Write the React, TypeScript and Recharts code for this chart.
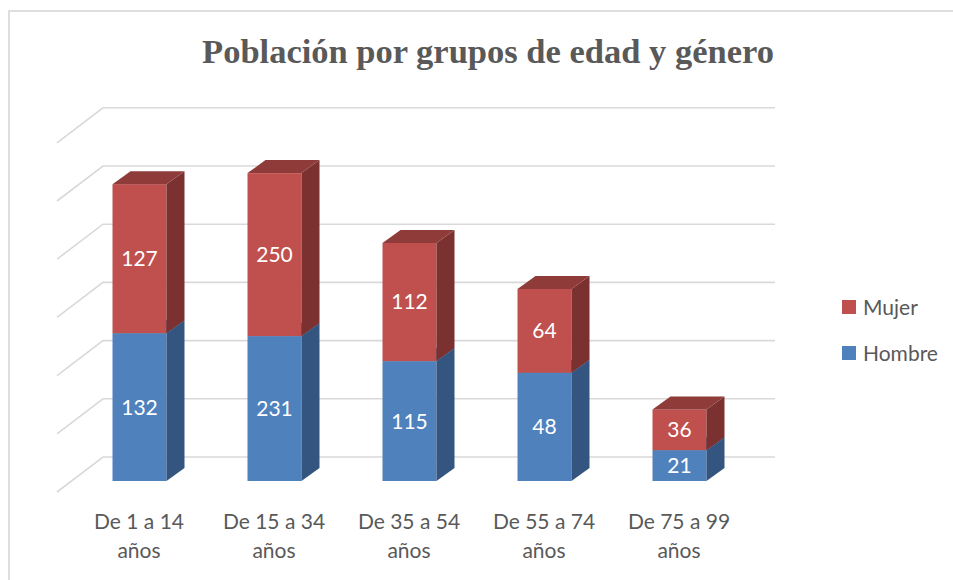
import { BarChart, Bar, XAxis, YAxis, CartesianGrid, LabelList, Legend } from 'recharts'

// Age groups (x axis)
const categories = ['De 1 a 14 años', 'De 15 a 34 años', 'De 35 a 54 años', 'De 55 a 74 años', 'De 75 a 99 años']

// Bar heights as drawn (one gridline = 10)
const hombreHeights = [25.4, 24.9, 20.6, 18.6, 5.3]
const mujerHeights = [25.6, 28.0, 20.3, 14.4, 7.0]

// Data labels printed on the bars
const hombreLabels = [132, 231, 115, 48, 21]
const mujerLabels = [127, 250, 112, 64, 36]

const yTicks = [0, 10, 20, 30, 40, 50, 60]

const data = categories.map((name, i) => ({
    name,
    hombre: hombreHeights[i],
    mujer: mujerHeights[i],
    hombreLabel: hombreLabels[i],
    mujerLabel: mujerLabels[i],
}))

const FONT = 'Lato, "Open Sans", sans-serif'
const GRAY = '#595959'
const DX = 18
const DY = -13

const box = (front: string, side: string, top: string) => (props: any) => {
    const { x, y, width, height } = props
    if (!height) return <g />
    const r = x + width
    const b = y + height
    return (
        <g>
            <rect x={x} y={y} width={width} height={height} fill={front} />
            <polygon points={`${r},${b} ${r + DX},${b + DY} ${r + DX},${y + DY} ${r},${y}`} fill={side} />
            <polygon points={`${x},${y} ${r},${y} ${r + DX},${y + DY} ${x + DX},${y + DY}`} fill={top} />
        </g>
    )
}

const gridLine = (props: any) => {
    const { x1, x2, y1, index } = props
    const pts = `${x1 - 14.5},${y1 + 11} ${x1 + 31.5},${y1 - 24} ${x2 + 28.5},${y1 - 24}`
    return <polyline key={`g-${index}-${y1}`} points={pts} fill="none" stroke="#d9d9d9" strokeWidth={1.6} />
}

const CategoryTick = (props: any) => {
    const { x, y, payload } = props
    const s = String(payload.value)
    const i = s.lastIndexOf(' ')
    return (
        <g>
            <text x={x} y={y + 48} textAnchor="middle" fill={GRAY} fontSize={21} fontFamily={FONT}>{s.slice(0, i)}</text>
            <text x={x} y={y + 77} textAnchor="middle" fill={GRAY} fontSize={21} fontFamily={FONT}>{s.slice(i + 1)}</text>
        </g>
    )
}

const legendItems = [
    { name: 'Mujer', color: '#c0504d' },
    { name: 'Hombre', color: '#4f81bd' },
]

const LegendBox = () => (
    <div style={{ position: 'relative', width: 110, height: 70 }}>
        {legendItems.map((it, i) => (
            <div key={it.name} style={{ position: 'absolute', left: 0, top: i * 46, display: 'flex', alignItems: 'center', height: 20 }}>
                <span style={{ width: 14, height: 14, background: it.color, display: 'inline-block', marginRight: 7 }} />
                <span style={{ fontFamily: FONT, fontSize: 21, color: GRAY, lineHeight: '20px' }}>{it.name}</span>
            </div>
        ))}
    </div>
)

export default function App() {
    return (
        <div style={{ position: 'absolute', left: 0, top: 0, width: 953, height: 580, background: '#fff' }}>
            <div style={{ position: 'absolute', left: 8, top: 10, width: 945, height: 570, borderLeft: '2px solid #dedede', borderTop: '2px solid #dedede', boxSizing: 'border-box' }} />
            <svg width={953} height={100} style={{ position: 'absolute', left: 0, top: 0, pointerEvents: 'none' }}>
                <text x={488} y={63} textAnchor="middle" fill={GRAY} fontSize={34.5} fontWeight="bold" fontFamily='"Liberation Serif", serif'>
                    Población por grupos de edad y género
                </text>
            </svg>
            <div style={{ position: 'absolute', left: 0, top: 0 }}>
                <BarChart
                    width={953}
                    height={580}
                    data={data}
                    margin={{ top: 131.8, right: 206.5, bottom: 69, left: 71.5 }}
                    barSize={54}
                >
                    <CartesianGrid vertical={false} horizontal={gridLine} />
                    <YAxis hide domain={[0, 60]} ticks={yTicks} />
                    <XAxis
                        dataKey="name"
                        height={30}
                        axisLine={false}
                        tickLine={false}
                        tickSize={0}
                        tickMargin={0}
                        interval={0}
                        tick={<CategoryTick />}
                    />
                    <Legend
                        layout="vertical"
                        align="center"
                        verticalAlign="middle"
                        content={<LegendBox />}
                        wrapperStyle={{ left: 842, top: 297, width: 110 }}
                    />
                    <Bar dataKey="hombre" name="Hombre" stackId="a" fill="#4f81bd" isAnimationActive={false} shape={box('#4f81bd', '#34557f', '#3d6594')}>
                        <LabelList dataKey="hombreLabel" position="center" fill="#fff" fontSize={21} fontFamily={FONT} />
                    </Bar>
                    <Bar dataKey="mujer" name="Mujer" stackId="a" fill="#c0504d" isAnimationActive={false} shape={box('#c0504d', '#7b3130', '#8e3b39')}>
                        <LabelList dataKey="mujerLabel" position="center" fill="#fff" fontSize={21} fontFamily={FONT} />
                    </Bar>
                </BarChart>
            </div>
        </div>
    )
}
